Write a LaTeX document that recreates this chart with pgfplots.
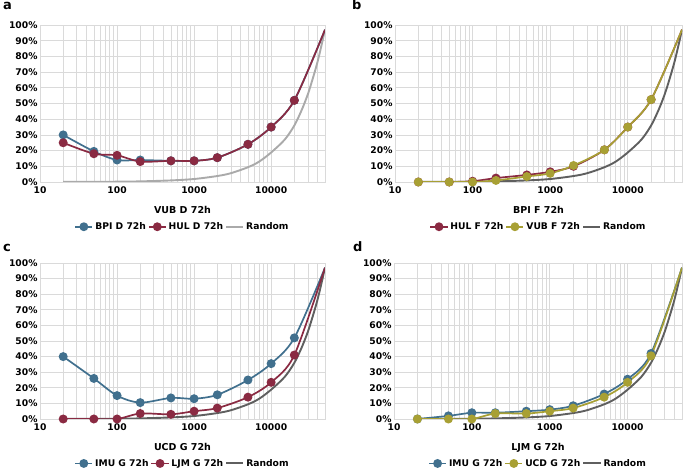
\documentclass[border=0pt]{standalone}
\usepackage{pgfplots}
\usepackage{pgfplotstable}
\pgfplotsset{compat=1.18}
\usepackage{fontspec}
\setmainfont{DejaVu Sans}
\definecolor{cblue}{RGB}{65,112,142}
\definecolor{cred}{RGB}{138,42,66}
\definecolor{colive}{RGB}{168,160,52}
\definecolor{glight}{RGB}{170,170,170}
\definecolor{gdark}{RGB}{95,95,95}
\definecolor{gridc}{RGB}{218,218,218}
\pgfplotstableread{
x y
20 0.04
50 0.1
100 0.2
200 0.4
500 1
1000 1.9
2000 3.8
3000 5.6
5000 9.4
7000 13
10000 18.8
15000 27
20000 36
25000 46
30000 56
35000 66.5
40000 76.5
45000 87
50000 97
}\randomtab
\pgfplotsset{
  scale only axis,
  xmin=10, xmax=50000, ymin=0, ymax=100,
  xtick={10,100,1000,10000}, xticklabels={10,100,1000,10000},
  minor xtick={20,30,40,50,60,70,80,90,200,300,400,500,600,700,800,900,2000,3000,4000,5000,6000,7000,8000,9000,20000,30000,40000,50000},
  ytick={0,10,20,30,40,50,60,70,80,90,100},
  yticklabels={0\%,10\%,20\%,30\%,40\%,50\%,60\%,70\%,80\%,90\%,100\%},
  grid=both,
  major grid style={gridc, line width=0.7pt},
  minor grid style={gridc, line width=0.7pt},
  axis line style={gridc, line width=0.7pt},
  tick style={draw=none},
  ticklabel style={font=\bfseries\fontsize{9.2}{10}\selectfont},
  xticklabel style={yshift=-1pt},
  yticklabel style={xshift=1pt},
  xlabel style={font=\bfseries\fontsize{9.5}{11}\selectfont, yshift=-6pt},
  legend columns=3,
  legend style={at={(0.5,-0.285)}, anchor=center, draw=none, fill=none,
    font=\bfseries\fontsize{9.2}{10}\selectfont},
}
\begin{document}
\begin{tikzpicture}
\path (0pt,0pt) rectangle (685pt,473pt);
\node[anchor=base west, font=\bfseries\fontsize{13}{14}\selectfont, inner sep=0] at (3pt,463pt) {a};
\node[anchor=base west, font=\bfseries\fontsize{13}{14}\selectfont, inner sep=0] at (352pt,463pt) {b};
\node[anchor=base west, font=\bfseries\fontsize{13}{14}\selectfont, inner sep=0] at (3pt,221pt) {c};
\node[anchor=base west, font=\bfseries\fontsize{13}{14}\selectfont, inner sep=0] at (353pt,221pt) {d};

% Panel a
\begin{semilogxaxis}[anchor=south west, at={(40pt,291pt)}, width=285pt, height=157pt, xlabel={VUB D 72h}]
\addlegendimage{cblue, line width=1.8pt, mark=*, mark size=3.5pt}\addlegendentry{BPI D 72h}
\addlegendimage{cred, line width=1.8pt, mark=*, mark size=3.5pt}\addlegendentry{HUL D 72h}
\addlegendimage{glight, line width=2pt}\addlegendentry{Random}
\addplot[glight, line width=1.9pt, smooth, forget plot] table[x=x,y=y] {\randomtab};
\addplot[cblue, line width=1.7pt, smooth, mark=*, mark size=3.6pt, mark indices={1,2,3,4,5,6,7,8,9,10}, forget plot] coordinates {(20,30) (50,19.5) (100,14) (200,14) (500,13.5) (1000,13.5) (2000,15.5) (5000,24) (10000,35) (20000,52) (50000,97)};
\addplot[cred, line width=1.7pt, smooth, mark=*, mark size=3.6pt, mark indices={1,2,3,4,5,6,7,8,9,10}, forget plot] coordinates {(20,25) (50,18) (100,17) (200,13) (500,13.5) (1000,13.5) (2000,15.5) (5000,24) (10000,35) (20000,52) (50000,97)};
\end{semilogxaxis}

% Panel b
\begin{semilogxaxis}[anchor=south west, at={(395pt,291pt)}, width=287pt, height=157pt, xlabel={BPI F 72h}]
\addlegendimage{cred, line width=1.8pt, mark=*, mark size=3.5pt}\addlegendentry{HUL F 72h}
\addlegendimage{colive, line width=1.8pt, mark=*, mark size=3.5pt}\addlegendentry{VUB F 72h}
\addlegendimage{gdark, line width=2pt}\addlegendentry{Random}
\addplot[gdark, line width=1.9pt, smooth, forget plot] table[x=x,y=y] {\randomtab};
\addplot[cred, line width=1.7pt, smooth, mark=*, mark size=3.6pt, mark indices={1,2,3,4,5,6,7,8,9,10}, forget plot] coordinates {(20,0) (50,0) (100,0.5) (200,2.5) (500,4.5) (1000,6.5) (2000,10) (5000,20.5) (10000,35) (20000,52.5) (50000,97)};
\addplot[colive, line width=1.7pt, smooth, mark=*, mark size=3.6pt, mark indices={1,2,3,4,5,6,7,8,9,10}, forget plot] coordinates {(20,0) (50,0) (100,0) (200,1) (500,3.5) (1000,5.5) (2000,10.5) (5000,20.5) (10000,35) (20000,52.5) (50000,97)};
\end{semilogxaxis}

% Panel c
\begin{semilogxaxis}[anchor=south west, at={(40pt,54pt)}, width=285pt, height=156pt, xlabel={UCD G 72h}]
\addlegendimage{cblue, line width=1.8pt, mark=*, mark size=3.5pt}\addlegendentry{IMU G 72h}
\addlegendimage{cred, line width=1.8pt, mark=*, mark size=3.5pt}\addlegendentry{LJM G 72h}
\addlegendimage{gdark, line width=2pt}\addlegendentry{Random}
\addplot[gdark, line width=1.9pt, smooth, forget plot] table[x=x,y=y] {\randomtab};
\addplot[cblue, line width=1.7pt, smooth, mark=*, mark size=3.6pt, mark indices={1,2,3,4,5,6,7,8,9,10}, forget plot] coordinates {(20,40) (50,26) (100,15) (200,10.5) (500,13.5) (1000,13) (2000,15.5) (5000,25) (10000,35.5) (20000,52) (50000,97)};
\addplot[cred, line width=1.7pt, smooth, mark=*, mark size=3.6pt, mark indices={1,2,3,4,5,6,7,8,9,10}, forget plot] coordinates {(20,0) (50,0) (100,0) (200,3.5) (500,3) (1000,5) (2000,7) (5000,14) (10000,23.5) (20000,41) (50000,97)};
\end{semilogxaxis}

% Panel d
\begin{semilogxaxis}[anchor=south west, at={(394pt,54pt)}, width=288pt, height=156pt, xlabel={LJM G 72h}]
\addlegendimage{cblue, line width=1.8pt, mark=*, mark size=3.5pt}\addlegendentry{IMU G 72h}
\addlegendimage{colive, line width=1.8pt, mark=*, mark size=3.5pt}\addlegendentry{UCD G 72h}
\addlegendimage{gdark, line width=2pt}\addlegendentry{Random}
\addplot[gdark, line width=1.9pt, smooth, forget plot] table[x=x,y=y] {\randomtab};
\addplot[cblue, line width=1.7pt, smooth, mark=*, mark size=3.6pt, mark indices={1,2,3,4,5,6,7,8,9,10}, forget plot] coordinates {(20,0) (50,2) (100,4) (200,4) (500,5) (1000,6) (2000,8.5) (5000,16) (10000,25.5) (20000,42) (50000,97)};
\addplot[colive, line width=1.7pt, smooth, mark=*, mark size=3.6pt, mark indices={1,2,3,4,5,6,7,8,9,10}, forget plot] coordinates {(20,0) (50,0) (100,0) (200,3.5) (500,3.5) (1000,5) (2000,7) (5000,14) (10000,23.5) (20000,40.5) (50000,97)};
\end{semilogxaxis}
\end{tikzpicture}
\end{document}
